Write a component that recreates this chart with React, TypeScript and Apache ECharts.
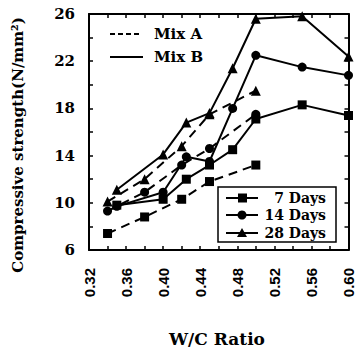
import React, { useEffect, useRef } from "react";
import * as echarts from "echarts";

const xB = [0.35, 0.4, 0.425, 0.45, 0.475, 0.5, 0.55, 0.6];
const b7 = [9.8, 10.3, 12.0, 13.2, 14.5, 17.1, 18.3, 17.4];
const b14 = [9.7, 10.9, 13.9, 13.5, 18.0, 22.5, 21.5, 20.8];
const b28 = [11.1, 14.1, 16.8, 17.6, 21.4, 25.6, 25.8, 22.4];
const xA = [0.34, 0.38, 0.42, 0.45, 0.5];
const a7 = [7.4, 8.8, 10.3, 11.8, 13.2];
const a14 = [9.3, 10.9, 13.2, 14.6, 17.5];
const a28 = [10.1, 12.0, 14.8, 17.5, 19.5];

const ageNames = ["7 Days", "14 Days", "28 Days"];
const mixNames = ["Mix A", "Mix B"];
const symbols = ["rect", "circle", "triangle"];

const serif = "'DejaVu Serif', 'Liberation Serif', serif";
const sans = "'Liberation Sans', Arial, sans-serif";

export default function App() {
  const ref = useRef<HTMLDivElement>(null);
  useEffect(() => {
    if (!ref.current) return;
    const chart = echarts.init(ref.current, null, { renderer: "svg" });
    const pair = (xs: number[], ys: number[]) => xs.map((x, i) => [x, ys[i]]);
    const mk = (name: string, data: number[][], sym: string, dashed: boolean) => ({
      type: "line",
      name,
      data,
      symbol: sym,
      symbolSize: sym === "triangle" ? 10 : 9,
      itemStyle: { color: "#000" },
      lineStyle: { color: "#000", width: 2, type: dashed ? [9, 6] : "solid" },
      clip: true,
    });
    const series = [
      mk("A7", pair(xA, a7), symbols[0], true),
      mk("A14", pair(xA, a14), symbols[1], true),
      mk("A28", pair(xA, a28), symbols[2], true),
      mk("B7", pair(xB, b7), symbols[0], false),
      mk("B14", pair(xB, b14), symbols[1], false),
      mk("B28", pair(xB, b28), symbols[2], false),
    ];
    const axisLine = { lineStyle: { color: "#000", width: 2 } };
    const tick = { show: true, inside: true, length: 4, lineStyle: { color: "#000", width: 1.5 } };
    const gx = 89, gy = 14, gw = 262, gh = 236;
    const legendY = [198, 215, 233];
    const graphics: any[] = [
      {
        type: "text",
        x: 18,
        y: 145,
        rotation: Math.PI / 2,
        style: {
          text: "Compressive strength(N/mm²)",
          font: `bold 15px ${serif}`,
          fill: "#000",
          align: "center",
          verticalAlign: "middle",
        },
      },
      {
        type: "text",
        x: 217,
        y: 339,
        style: {
          text: "W/C Ratio",
          font: `bold 17px ${serif}`,
          fill: "#000",
          align: "center",
          verticalAlign: "middle",
        },
      },
      { type: "line", shape: { x1: 110, y1: 34, x2: 142, y2: 34 }, style: { stroke: "#000", lineWidth: 2, lineDash: [5, 3] } },
      { type: "text", x: 154, y: 34, style: { text: mixNames[0], font: `bold 15px ${serif}`, fill: "#000", verticalAlign: "middle" } },
      { type: "line", shape: { x1: 110, y1: 57, x2: 143, y2: 57 }, style: { stroke: "#000", lineWidth: 2 } },
      { type: "text", x: 154, y: 57, style: { text: mixNames[1], font: `bold 15px ${serif}`, fill: "#000", verticalAlign: "middle" } },
      { type: "rect", shape: { x: 218, y: 187, width: 118, height: 55 }, style: { fill: "#fff", stroke: "#000", lineWidth: 1.5 } },
    ];
    ageNames.forEach((n, i) => {
      const y = legendY[i];
      graphics.push({ type: "line", shape: { x1: 226, y1: y, x2: 258, y2: y }, style: { stroke: "#000", lineWidth: 2 } });
      if (i === 0) graphics.push({ type: "rect", shape: { x: 238, y: y - 4.5, width: 9, height: 9 }, style: { fill: "#000" } });
      if (i === 1) graphics.push({ type: "circle", shape: { cx: 242, cy: y, r: 4.5 }, style: { fill: "#000" } });
      if (i === 2)
        graphics.push({ type: "polygon", shape: { points: [[242, y - 5], [247, y + 4], [237, y + 4]] }, style: { fill: "#000" } });
      graphics.push({
        type: "text",
        x: 326,
        y,
        style: { text: n, font: `bold 14px ${serif}`, fill: "#000", align: "right", verticalAlign: "middle" },
      });
    });
    chart.setOption({
      animation: false,
      grid: { left: gx, top: gy, width: gw, height: gh, containLabel: false },
      xAxis: [
        {
          type: "value",
          min: 0.32,
          max: 0.6,
          interval: 0.02,
          position: "bottom",
          axisLine,
          axisTick: tick,
          splitLine: { show: false },
          axisLabel: {
            rotate: 90,
            margin: 18,
            color: "#000",
            fontFamily: sans,
            fontWeight: "bold",
            fontSize: 15,
            formatter: (v: number) => (Math.round(v * 100) % 4 === 0 ? v.toFixed(2) : ""),
          },
        },
        {
          type: "value",
          min: 0.32,
          max: 0.6,
          interval: 0.02,
          position: "top",
          axisLine,
          axisTick: tick,
          splitLine: { show: false },
          axisLabel: { show: false },
        },
      ],
      yAxis: [
        {
          type: "value",
          min: 6,
          max: 26,
          interval: 2,
          position: "left",
          axisLine: { show: true, ...axisLine },
          axisTick: tick,
          splitLine: { show: false },
          axisLabel: {
            margin: 14,
            color: "#000",
            fontFamily: serif,
            fontWeight: "bold",
            fontSize: 15,
            formatter: (v: number) => ((v - 6) % 4 === 0 ? String(v) : ""),
          },
        },
        {
          type: "value",
          min: 6,
          max: 26,
          interval: 2,
          position: "right",
          axisLine: { show: true, ...axisLine },
          axisTick: tick,
          splitLine: { show: false },
          axisLabel: { show: false },
        },
      ],
      series,
      graphic: graphics,
    });
    return () => chart.dispose();
  }, []);
  return <div ref={ref} style={{ width: 356, height: 349, position: "absolute", left: 0, top: 0 }} />;
}
